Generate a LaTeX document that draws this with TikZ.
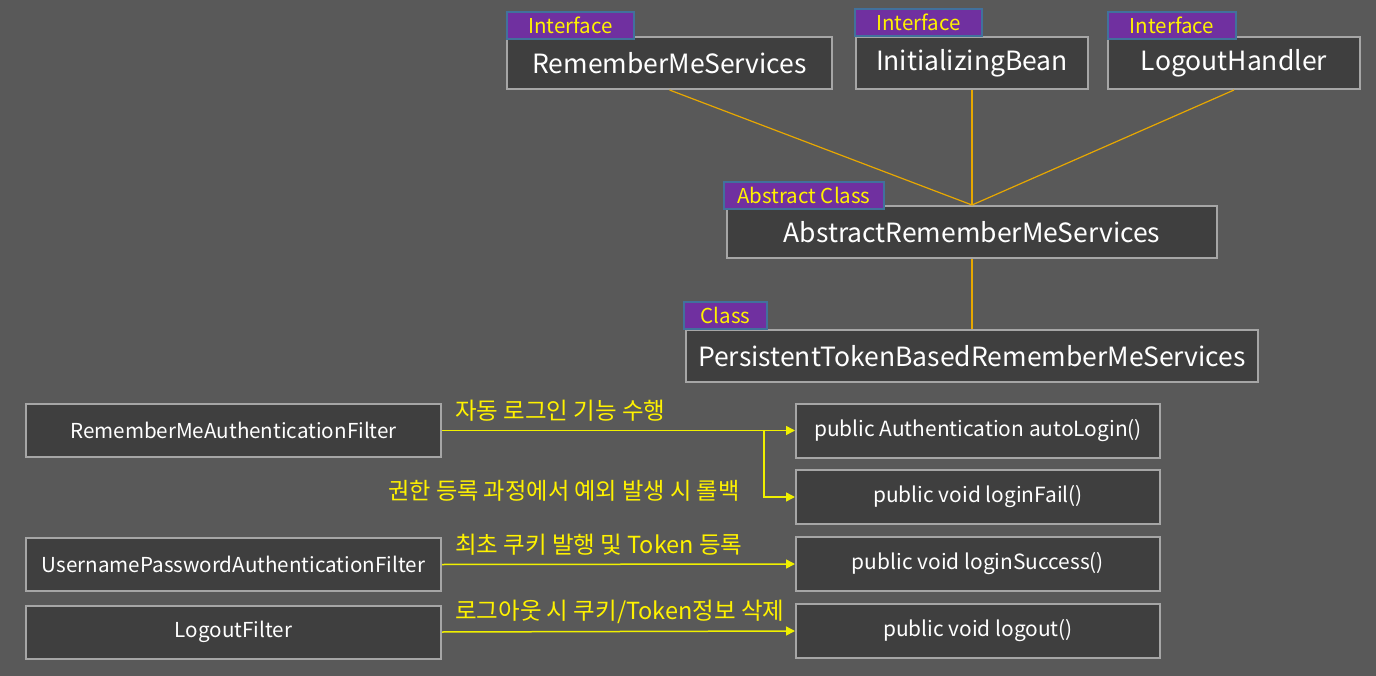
\documentclass[tikz,border=0pt]{standalone}
\usepackage{fontspec}
\setmainfont{Noto Sans CJK KR}
\usetikzlibrary{positioning, arrows.meta, calc}
\definecolor{bggray}{HTML}{595959}
\definecolor{boxfill}{HTML}{3F3F3F}
\definecolor{edgegray}{HTML}{A6A6A6}
\definecolor{tagfill}{HTML}{7030A0}
\definecolor{tagedge}{HTML}{41719C}
\definecolor{linkorange}{HTML}{E8A800}
\definecolor{flowyellow}{HTML}{F0F000}
\tikzset{
  cls/.style={draw=edgegray, line width=2pt, fill=boxfill, text=white, font=\fontsize{26.5}{30}\selectfont, minimum height=52pt, inner sep=0pt},
  filt/.style={cls, font=\fontsize{20.6}{24}\selectfont, minimum width=415pt, minimum height=53pt},
  meth/.style={cls, font=\fontsize{20.9}{24}\selectfont, minimum width=364pt, minimum height=54pt},
  tag/.style={draw=tagedge, line width=1.5pt, fill=tagfill, text=yellow, font=\fontsize{20.5}{22}\selectfont, minimum height=27pt, inner sep=0pt},
  impl/.style={draw=linkorange, line width=1.2pt},
  flow/.style={draw=flowyellow, line width=1.5pt, -{Triangle[length=9pt,width=9pt]}},
  note/.style={text=yellow, font=\fontsize{23.5}{28}\selectfont, inner sep=0pt, anchor=west},
}
\begin{document}
\begin{tikzpicture}[x=1pt, y=-1pt]
  \fill[bggray] (0,0) rectangle (1376,676);
  \useasboundingbox (0,0) rectangle (1376,676);
  % interfaces
  \node[cls, minimum width=325pt] (rms) at (669.5,63) {RememberMeServices};
  \node[cls, minimum width=232pt] (ib) at (972,63) {InitializingBean};
  \node[cls, minimum width=252pt] (lh) at (1234,63) {LogoutHandler};
  \node[tag, minimum width=127pt] (rmsTag) at (570.5,25.5) {Interface};
  \node[tag, minimum width=127pt] (ibTag) at (918.5,22.5) {Interface};
  \node[tag, minimum width=128pt] (lhTag) at (1172,25.5) {Interface};
  % classes
  \node[cls, minimum width=490pt] (arms) at (972,232) {AbstractRememberMeServices};
  \node[tag, minimum width=160pt] (armsTag) at (804,195.5) {Abstract Class};
  \node[cls, minimum width=572pt] (ptb) at (972,356) {PersistentTokenBasedRememberMeServices};
  \node[tag, minimum width=83pt] (ptbTag) at (725.5,315.5) {Class};
  \draw[impl] (rms.south) -- (arms.north);
  \draw[impl] (ib.south) -- (arms.north);
  \draw[impl] (lh.south) -- (arms.north);
  \draw[impl] (arms.south) -- (ptb.north);
  % filters and methods
  \node[filt] (rmaf) at (233.5,430.5) {RememberMeAuthenticationFilter};
  \node[filt] (upaf) at (233.5,564.5) {UsernamePasswordAuthenticationFilter};
  \node[filt] (lof) at (233.5,632) {LogoutFilter};
  \node[meth] (login) at (978,430.5) {public Authentication autoLogin()};
  \node[meth] (fail) at (978,497) {public void loginFail()};
  \node[meth] (succ) at (978,564) {public void loginSuccess()};
  \node[meth] (out) at (978,631) {public void logout()};
  \coordinate (fork) at (764,430.5);
  \draw[flow] (rmaf.east) -- (login.west);
  \draw[flow] (fork) |- (fail.west);
  \draw[flow] (upaf.east) -- (succ.west);
  \draw[flow] (lof.east) -- (out.west);
  \node[note] (autoNote) at (455,411) {자동 로그인 기능 수행};
  \node[note, font=\fontsize{23.2}{27}\selectfont] (failNote) at (388,491) {권한 등록 과정에서 예외 발생 시 롤백};
  \node[note] (succNote) at (455,545) {최초 쿠키 발행 및 Token 등록};
  \node[note] (outNote) at (455,612) {로그아웃 시 쿠키/Token정보 삭제};
\end{tikzpicture}
\end{document}
